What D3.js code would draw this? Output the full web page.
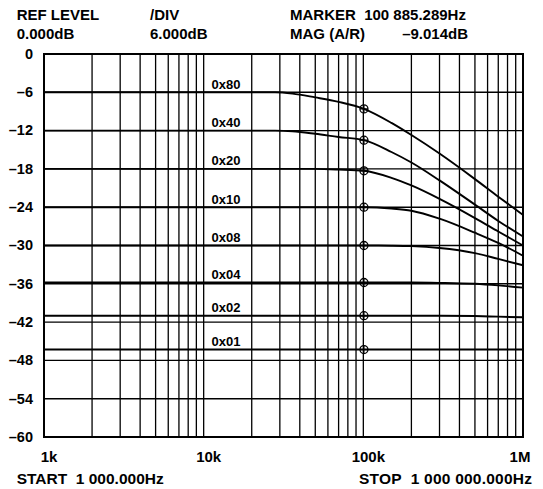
<!DOCTYPE html>
<html><head><meta charset="utf-8">
<script src="https://cdn.jsdelivr.net/npm/d3@7"></script>
<style>
html,body{margin:0;padding:0;background:#fff;}
svg text{font-family:"Liberation Sans",Arial,sans-serif;font-weight:bold;fill:#000;white-space:pre;}
</style></head>
<body>
<svg id="chart" width="543" height="489"></svg>
<script>
// ---- data ----
const freqs = [1000, 20000, 28000, 36000, 50000, 70000, 100885, 150000, 200000, 300000, 500000, 700000, 1000000];
const seriesNames = ["0x80", "0x40", "0x20", "0x10", "0x08", "0x04", "0x02", "0x01"];
const s0x80 = [-6, -6, -6, -6.2, -6.8, -7.5, -8.6, -10.8, -12.7, -15.6, -19.6, -22.35, -25.2];
const s0x40 = [-12, -12, -12, -12.1, -12.5, -13.0, -13.5, -15.35, -17.0, -19.8, -23.6, -26.15, -28.6];
const s0x20 = [-18, -18, -18, -18, -18, -18.1, -18.3, -19.4, -20.6, -22.7, -25.7, -27.8, -30.0];
const s0x10 = [-24, -24, -24, -24, -24, -24, -24, -24.2, -24.55, -25.8, -28.0, -29.6, -31.6];
const s0x08 = [-30, -30, -30, -30, -30, -30, -30, -30.03, -30.1, -30.4, -31.2, -32.1, -33.1];
const s0x04 = [-35.8, -35.8, -35.8, -35.8, -35.8, -35.8, -35.8, -35.8, -35.8, -35.85, -36.0, -36.25, -36.6];
const s0x02 = [-41, -41, -41, -41, -41, -41, -41, -41, -41, -41, -41.05, -41.15, -41.25];
const s0x01 = [-46.3, -46.3, -46.3, -46.3, -46.3, -46.3, -46.3, -46.3, -46.3, -46.3, -46.3, -46.3, -46.3];
const seriesValues = [s0x80, s0x40, s0x20, s0x10, s0x08, s0x04, s0x02, s0x01];
const markerFreq = 100885;
const yTicks = [0, -6, -12, -18, -24, -30, -36, -42, -48, -54, -60];
const xTickVals = [1e3, 1e4, 1e5, 1e6];
const xTickLabels = ["1k", "10k", "100k", "1M"];
const labelFreq = 11200;
const header = [
  ["REF LEVEL", "0.000dB"],
  ["/DIV", "6.000dB"],
  ["MARKER  100 885.289Hz", "MAG (A/R)"]
];
const markerValueText = "\u20139.014dB";
const startText = "START  1 000.000Hz";
const stopText = "STOP  1 000 000.000Hz";

// ---- layout ----
const svg = d3.select("#chart");
const L = 44, R = 523, T = 54, B = 437;
const x = d3.scaleLog().domain([1e3, 1e6]).range([L, R]);
const y = d3.scaleLinear().domain([-60, 0]).range([B, T]);

// vertical grid
const vgrid = [];
for (let d = 1e3; d < 1e6; d *= 10) for (let k = 2; k <= 9; k++) vgrid.push(d * k);
vgrid.push(1e4, 1e5);
svg.append("g").selectAll("line").data(vgrid).join("line")
  .attr("x1", d => x(d)).attr("x2", d => x(d)).attr("y1", T).attr("y2", B)
  .attr("stroke", "#000").attr("stroke-width", 1.3);
// horizontal grid
svg.append("g").selectAll("line").data(yTicks).join("line")
  .attr("x1", L).attr("x2", R).attr("y1", d => y(d)).attr("y2", d => y(d))
  .attr("stroke", "#000").attr("stroke-width", 1.4);
// frame
svg.append("rect").attr("x", L).attr("y", T).attr("width", R - L).attr("height", B - T)
  .attr("fill", "none").attr("stroke", "#000").attr("stroke-width", 2);

// y tick labels
svg.append("g").selectAll("text").data(yTicks).join("text")
  .attr("x", L - 11).attr("y", d => y(d) + 1).attr("text-anchor", "end")
  .attr("dominant-baseline", "middle").attr("font-size", 14.5)
  .text(d => d === 0 ? "0" : "\u2013" + Math.abs(d));

// x tick labels
svg.append("g").selectAll("text").data(xTickVals).join("text")
  .attr("x", (d, i) => x(d) + (i === xTickVals.length - 1 ? -3 : 5))
  .attr("y", 461.5).attr("text-anchor", "middle").attr("font-size", 15)
  .text((d, i) => xTickLabels[i]);

svg.append("text").attr("x", 16.7).attr("y", 484).attr("font-size", 15.5).attr("xml:space", "preserve").text(startText);
svg.append("text").attr("x", 532).attr("y", 484).attr("text-anchor", "end").attr("font-size", 15.5)
  .attr("textLength", 173).attr("xml:space", "preserve").text(stopText);

// header
const hx = [16.7, 150, 290];
header.forEach((h, i) => {
  svg.append("text").attr("x", hx[i]).attr("y", 20).attr("font-size", 15).attr("xml:space", "preserve").text(h[0]);
  svg.append("text").attr("x", hx[i]).attr("y", 38.5).attr("font-size", 15).text(h[1]);
});
svg.append("text").attr("x", 468).attr("y", 38.5).attr("text-anchor", "end").attr("font-size", 15).text(markerValueText);

// curves
const line = d3.line().x(d => x(d[0])).y(d => y(d[1])).curve(d3.curveMonotoneX);
const mi = freqs.indexOf(markerFreq);
seriesValues.forEach((vals, si) => {
  const pts = freqs.map((f, i) => [f, vals[i]]);
  svg.append("path").attr("d", line(pts)).attr("fill", "none")
    .attr("stroke", "#000").attr("stroke-width", 1.9);
  svg.append("text").attr("x", x(labelFreq)).attr("y", y(vals[0]) - 3.5)
    .attr("font-size", 13).text(seriesNames[si]);
  const mx = x(markerFreq), my = y(vals[mi]);
  const g = svg.append("g");
  g.append("circle").attr("cx", mx).attr("cy", my).attr("r", 4).attr("fill", "none")
    .attr("stroke", "#000").attr("stroke-width", 1.3);
  g.append("line").attr("x1", mx - 4).attr("x2", mx + 4).attr("y1", my).attr("y2", my)
    .attr("stroke", "#000").attr("stroke-width", 1.2);
  g.append("line").attr("x1", mx).attr("x2", mx).attr("y1", my - 4).attr("y2", my + 4)
    .attr("stroke", "#000").attr("stroke-width", 1.2);
});
</script>
</body></html>
